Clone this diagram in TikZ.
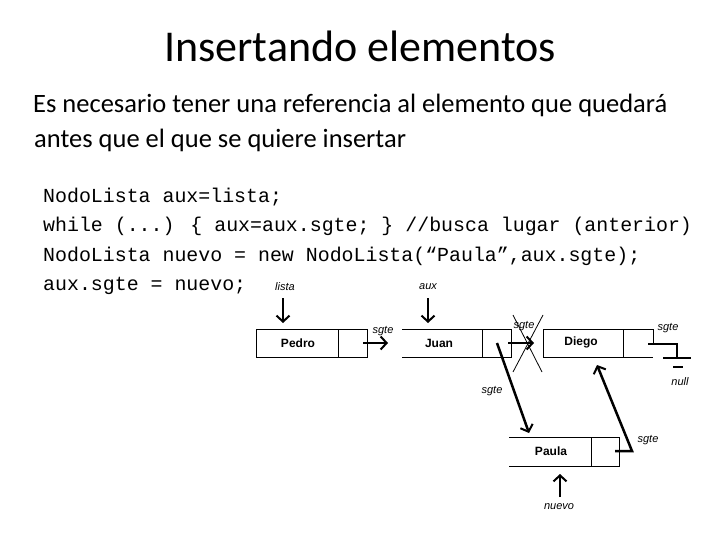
\documentclass[tikz,border=0pt]{standalone}
\usepackage{fontspec}
\setmainfont{Carlito}
\newfontfamily\codefont{Liberation Mono}
\newfontfamily\diagfont{Liberation Sans}
\usetikzlibrary{arrows.meta}

\begin{document}
\begin{tikzpicture}[x=1pt,y=-1pt,
    lbl/.style={font=\diagfont\fontsize{11}{11}\selectfont\itshape, inner sep=0pt},
    val/.style={font=\diagfont\fontsize{12}{12}\selectfont\bfseries, inner sep=0pt},
    code/.style={font=\codefont\fontsize{19.9}{20}\selectfont, anchor=base west, inner sep=0pt},
    txt/.style={font=\fontsize{26.5}{26.5}\selectfont, anchor=base west, inner sep=0pt},
    ptr/.style={line width=2.5pt, -{Straight Barb[length=6pt,width=13pt,line width=2pt]}},
    cell/.style={line width=0.8pt}]
    \useasboundingbox (0,0) rectangle (720,540);

    % Title and text
    \node[font=\fontsize{44}{44}\selectfont, anchor=base, inner sep=0pt] (title) at (360,62) {Insertando elementos};
    \node[txt] (line1) at (33,113) {Es necesario tener una referencia al elemento que quedará};
    \node[txt] (line2) at (34,148) {antes que el que se quiere insertar};

    % Code
    \node[code] (code1) at (43,203) {NodoLista aux=lista;};
    \node[code] (code2) at (43,232) {while (...) \{ aux=aux.sgte; \} //busca lugar (anterior)};
    \node[code] (code3) at (43,261) {NodoLista nuevo = new NodoLista(“Paula”,aux.sgte);};
    \node[code] (code4) at (43,290) {aux.sgte = nuevo;};

    % Pedro
    \draw[cell] (256,329) rectangle (367,357);
    \draw[cell] (338,329) -- (338,357);
    \node[val] (pedro) at (298,343) {Pedro};
    % Juan
    \draw[cell] (402,329) -- (511,329) -- (511,357) -- (402,357);
    \draw[cell] (482,329) -- (482,357);
    \node[val] (juan) at (439,343) {Juan};
    % Diego
    \draw[cell] (653,344) -- (653,329) -- (543,329) -- (543,357) -- (653,357);
    \draw[cell] (623,329) -- (623,357);
    \node[val] (diego) at (581,342) {Diego};
    % Paula
    \draw[cell] (509,437) -- (619,437) -- (619,466) -- (509,466);
    \draw[cell] (591,437) -- (591,466);
    \node[val] (paula) at (551,451) {Paula};

    % Pointer ends
    \coordinate (listaFrom) at (283,298);
    \coordinate (listaTo) at (283,323);
    \coordinate (auxFrom) at (428,298);
    \coordinate (auxTo) at (428,323);
    \coordinate (pedroNext) at (363,343);
    \coordinate (juanIn) at (388,343);
    \coordinate (juanNext) at (508,343);
    \coordinate (diegoIn) at (534,343);
    \coordinate (juanNew) at (497,343);
    \coordinate (paulaIn) at (529,433);
    \coordinate (paulaNext) at (615,451);
    \coordinate (paulaBend) at (632,451);
    \coordinate (diegoBelow) at (597,365);
    \coordinate (nuevoFrom) at (560,497);
    \coordinate (nuevoTo) at (560,474);
    \coordinate (diegoNext) at (648,344);
    \coordinate (nullBend) at (677,344);
    \coordinate (nullEnd) at (677,358);

    % Arrows
    \draw[ptr] (listaFrom) -- (listaTo);
    \draw[ptr] (auxFrom) -- (auxTo);
    \draw[ptr] (pedroNext) -- (juanIn);
    \draw[ptr] (juanNext) -- (diegoIn);
    \draw[ptr] (juanNew) -- (paulaIn);
    \draw[ptr] (paulaNext) -- (paulaBend) -- (diegoBelow);
    \draw[ptr] (nuevoFrom) -- (nuevoTo);

    % Crossed link
    \draw[line width=0.8pt] (513,315) -- (542,372);
    \draw[line width=0.8pt] (543,315) -- (513,372);

    % null
    \draw[line width=2.5pt] (diegoNext) -- (nullBend) -- (nullEnd);
    \draw[line width=2.5pt] (663,358) -- (691,358);
    \draw[line width=2.5pt] (673,367) -- (683,367);

    % Labels
    \node[lbl] (lista) at (285,287) {lista};
    \node[lbl] (aux) at (428,287) {aux};
    \node[lbl] (sgte1) at (383,331) {sgte};
    \node[lbl] (sgte2) at (524,326) {sgte};
    \node[lbl] (sgte3) at (668,328) {sgte};
    \node[lbl] (null) at (680,382) {null};
    \node[lbl] (sgte4) at (492,391) {sgte};
    \node[lbl] (sgte5) at (648,440) {sgte};
    \node[lbl] (nuevo) at (559,507) {nuevo};
\end{tikzpicture}
\end{document}
